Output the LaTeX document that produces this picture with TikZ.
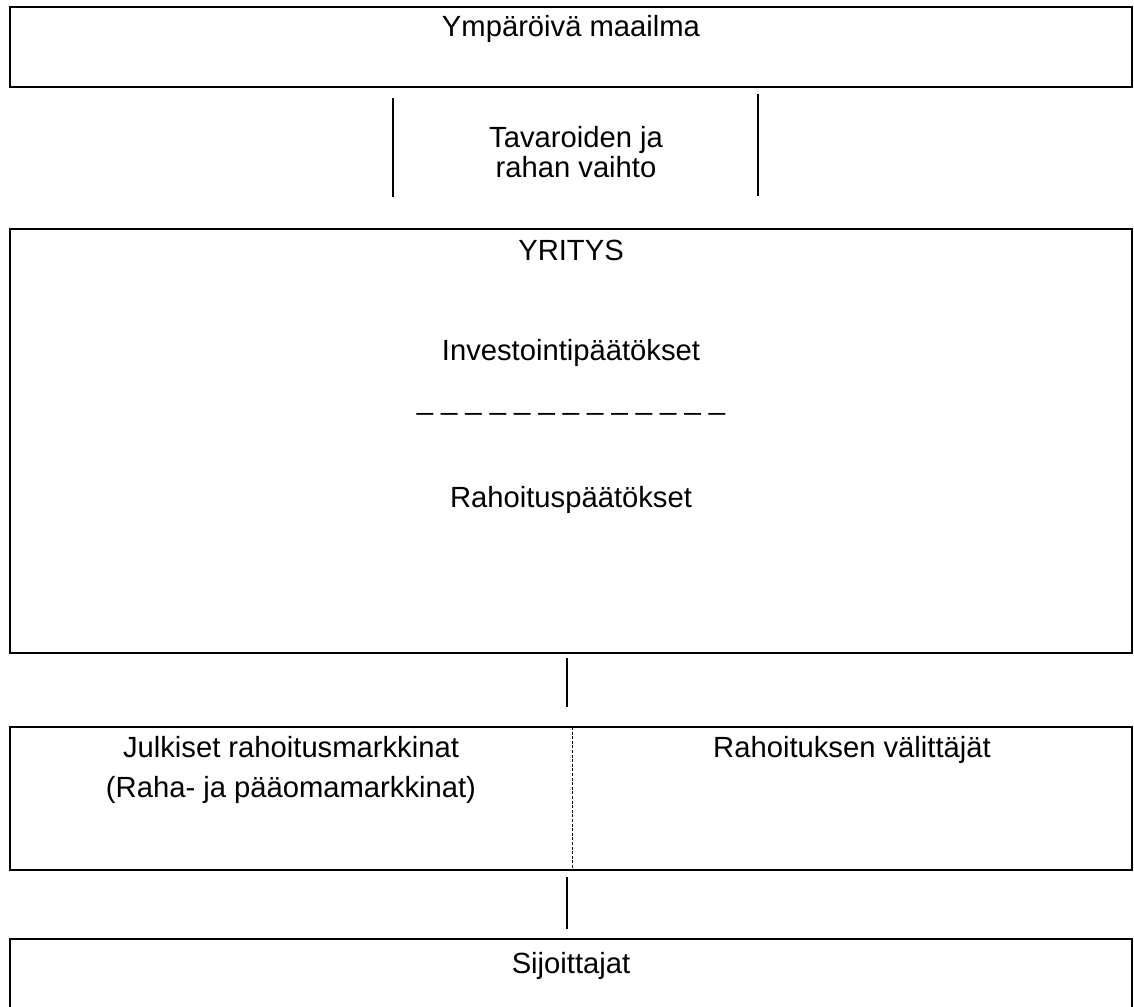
\documentclass[tikz,border=0pt]{standalone}
\usepackage{fontspec}
\setmainfont{Liberation Sans}
\begin{document}
\begin{tikzpicture}[x=0.5pt,y=-0.5pt,
  box/.style={draw,line width=1pt,minimum width=561pt,inner sep=0pt},
  txt/.style={anchor=base,inner sep=0pt,font=\fontsize{14.6}{17}\selectfont},
  link/.style={line width=0.8pt},
  divider/.style={line width=0.4pt,dash pattern=on 1.5pt off 0.8pt}]
\useasboundingbox (0,0) rectangle (1134,1006);
\clip (0,0) rectangle (1134,1006);
% boxes
\node[box,minimum height=40pt] (world) at (571,47) {};
\node[box,minimum height=212pt] (firm) at (571,441) {};
\node[box,minimum height=71.5pt] (markets) at (571,798.5) {};
\node[box,minimum height=51pt] (investors) at (571,990) {};
% texts
\node[txt] (worldtext) at (571,37) {Ympäröivä maailma};
\node[txt] (trade1) at (576,148) {Tavaroiden ja};
\node[txt] (trade2) at (576,177) {rahan vaihto};
\node[txt] (firmtext) at (571,260) {YRITYS};
\node[txt] (invest) at (571,360) {Investointipäätökset};
\node[txt] (rule) at (571,409) {\_ \_ \_ \_ \_ \_ \_ \_ \_ \_ \_ \_ \_};
\node[txt] (finance) at (571,507) {Rahoituspäätökset};
\node[txt] (public1) at (291,757) {Julkiset rahoitusmarkkinat};
\node[txt] (public2) at (291,797) {(Raha- ja pääomamarkkinat)};
\node[txt] (brokers) at (852,757) {Rahoituksen välittäjät};
\node[txt] (investtext) at (571,973) {Sijoittajat};
% lines
\coordinate (leftA) at (393,98);
\coordinate (leftB) at (393,197);
\coordinate (rightA) at (758,94);
\coordinate (rightB) at (758,196);
\draw[link] (leftA) -- (leftB);
\draw[link] (rightA) -- (rightB);
\draw[link] ([xshift=-2pt,yshift=-2pt]firm.south) -- ([xshift=-2pt,yshift=9.5pt]markets.north);
\draw[link] ([xshift=-2pt,yshift=-3pt]markets.south) -- ([xshift=-2pt,yshift=4.5pt]investors.north);
\coordinate (split) at (572,727);
\draw[divider] (split) -- (split |- markets.south);
\end{tikzpicture}
\end{document}
